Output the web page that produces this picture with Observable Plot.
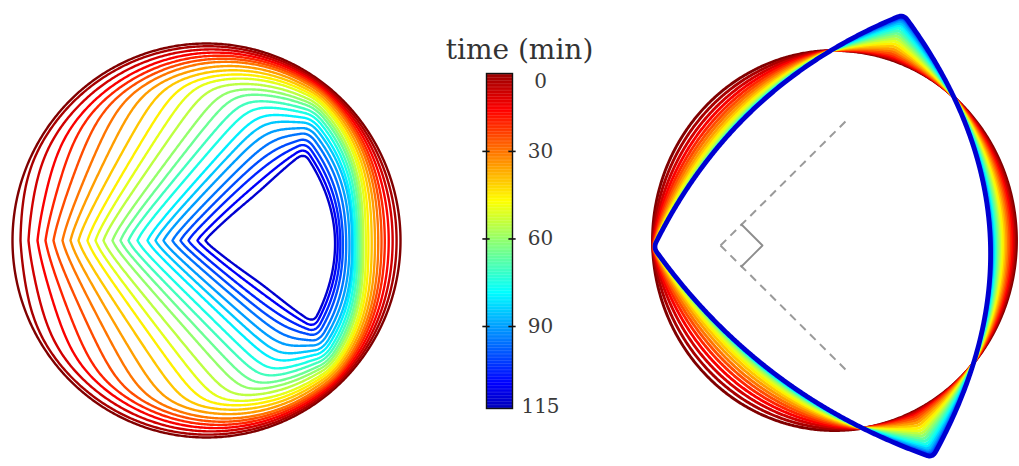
<!DOCTYPE html>
<html><head><meta charset="utf-8">
<script src="https://cdn.jsdelivr.net/npm/d3@7"></script>
<script src="https://cdn.jsdelivr.net/npm/@observablehq/plot@0.6"></script>
<style>
html,body{margin:0;padding:0;background:#fff;}
#wrap{position:relative;width:1019px;height:466px;overflow:hidden;background:#fff;}
#wrap > *{position:absolute;top:0;}
</style></head><body><div id="wrap"></div>
<script>
// ---------------- data ----------------
const times = [0,5,10,15,20,25,30,35,40,45,50,55,60,65,70,75,80,85,90,95,100,105,110,115];
// left panel: x of each contour's left tip on the horizontal mid line
const leftTipX = [12,20,28,37,45,53,62,70,78,87,95,103,112,120,128,137,147,155,163,172,180,188,197,205];
// fraction of the way from the first to the last outline, at the top/bottom and at the right
const leftTopFrac   = [0,0.02,0.04,0.06,0.08,0.1,0.12,0.15,0.18,0.21,0.24,0.28,0.32,0.36,0.41,0.46,0.52,0.58,0.65,0.72,0.8,0.87,0.94,1];
const leftRightFrac = [0,0.06,0.12,0.18,0.24,0.29,0.34,0.39,0.44,0.49,0.53,0.57,0.6,0.63,0.66,0.69,0.72,0.74,0.78,0.83,0.88,0.92,0.96,1];
// half opening angle (deg) of each contour's left corner
const leftCornerHalf = [90,86,81,76,72,68,65,62,59,57,55,53,51,49.5,48,47,46,45,44,43,42.3,41.6,40.9,40.2];
const leftCircle = [206, 240, 194, 197];              // cx, cy, rx, ry  (t = 0)
const leftTriangle = [[205,241],[303,151],[312,324]]; // final outline corners (t = 115)
const leftBulge = [6, 27, 6];
const leftCenter = [280, 240];
// right panel
const rightCircle = [834, 240, 182, 190];
const rightTriangle = [[903,14],[653,247],[932,457]];
const rightBulge = [33, 28, 72];
const rightCenter = [840, 240];
const rightInwardLeft  = [0,0.12,0.24,0.35,0.45,0.54,0.62,0.7,0.77,0.83,0.88,0.92,0.95,0.97,0.98,0.985,0.99,0.993,0.995,0.997,0.998,0.999,1,1];
const rightInwardRight = [0,0.06,0.12,0.18,0.24,0.3,0.36,0.42,0.48,0.54,0.6,0.65,0.7,0.75,0.8,0.84,0.88,0.91,0.94,0.96,0.98,0.99,1,1];
const rightOutward = [0,0.02,0.04,0.07,0.1,0.14,0.19,0.24,0.3,0.36,0.42,0.48,0.54,0.6,0.66,0.72,0.78,0.83,0.88,0.92,0.95,0.98,0.995,1];
const guideLines = [{x1:720,y1:245,x2:848,y2:118},{x1:720,y1:245,x2:848,y2:372}];
const rightAngle = [[741,224],[762,245],[741,266]];
// colour bar
const barTicks = [0,30,60,90,115];
const barRange = [3.3, 118.1];
const colorDomain = [0, 125];
const barTitle = "time (min)";

// ---------------- helpers ----------------
function jet(v){
  v = Math.max(0, Math.min(1, v));
  const c = x => Math.round(255*Math.max(0, Math.min(1, x)));
  const r = Math.min(4*v-1.5, -4*v+4.5), g = Math.min(4*v-0.5, -4*v+3.5), b = Math.min(4*v+0.5, -4*v+2.5);
  return `rgb(${c(r)},${c(g)},${c(b)})`;
}
function jetReversed(u){ return jet(1 - u); }
const colorOpts = {type:"linear", domain: colorDomain, interpolate: jetReversed};

function ellipsePts([cx,cy,rx,ry]){
  return d3.range(1440).map(k => {const a = k/1440*2*Math.PI; return [cx+rx*Math.cos(a), cy+ry*Math.sin(a)];});
}
function bulgedPts(verts, bulges){
  const gx = d3.mean(verts, v=>v[0]), gy = d3.mean(verts, v=>v[1]);
  const pts = [];
  verts.forEach((A,i) => {
    const B = verts[(i+1)%verts.length];
    const dx = B[0]-A[0], dy = B[1]-A[1], L = Math.hypot(dx,dy);
    let nx = -dy/L, ny = dx/L;
    const mx = (A[0]+B[0])/2-gx, my = (A[1]+B[1])/2-gy;
    if (nx*mx+ny*my < 0){nx=-nx; ny=-ny;}
    const n = Math.ceil(L);
    for (let k=0;k<n;k++){const u=k/n, h=bulges[i]*4*u*(1-u); pts.push([A[0]+u*dx+nx*h, A[1]+u*dy+ny*h]);}
  });
  return pts;
}
function smooth(pts, w){
  const n = pts.length;
  return pts.map((p,i) => {let sx=0, sy=0; for(let j=-w;j<=w;j++){const q=pts[(i+j+n)%n]; sx+=q[0]; sy+=q[1];} return [sx/(2*w+1), sy/(2*w+1)];});
}
const NA = 900;
const angles = d3.range(NA).map(k => -Math.PI + 2*Math.PI*k/NA);
function polar(pts, [cx,cy]){
  const a = pts.map(([x,y]) => ({a: Math.atan2(y-cy, x-cx), r: Math.hypot(x-cx, y-cy)})).sort((p,q) => p.a-q.a);
  const ext = [{a: a[a.length-1].a-2*Math.PI, r: a[a.length-1].r}, ...a, {a: a[0].a+2*Math.PI, r: a[0].r}];
  const bis = d3.bisector(d => d.a).left;
  return angles.map(t => {const i = Math.max(1, bis(ext, t)); const p = ext[i-1], q = ext[i]; const f = (t-p.a)/((q.a-p.a)||1); return p.r + f*(q.r-p.r);});
}
function softMin(a, b, k){
  const m = Math.min(a, b), M = Math.max(a, b);
  if (!isFinite(M)) return m;
  return m - k*Math.log(1 + Math.exp(-(M-m)/k));
}

// ---------------- left panel contours ----------------
const Lc = polar(ellipsePts(leftCircle), leftCenter);
const Lt = polar(smooth(bulgedPts(leftTriangle, leftBulge), 8), leftCenter);
const upSkew = 2.4, rad = Math.PI/180, softK = 7, tipShift = softK*Math.log(2);
const leftRows = [];
times.forEach((t,i) => {
  const [cx, cy] = leftCenter;
  const tip = leftTipX[i] - tipShift;
  const fTip = Math.max(0, (Lc[0] - (cx - tip)) / (Lc[0] - Lt[0]));
  const fT = leftTopFrac[i], fR = leftRightFrac[i];
  const pu = (leftCornerHalf[i] + upSkew)*rad, pd = (leftCornerHalf[i] - upSkew)*rad;
  const nUp = [-Math.sin(pu), -Math.cos(pu)], nDn = [-Math.sin(pd), Math.cos(pd)];
  const P = [tip, cy];
  angles.forEach((a,k) => {
    const c = Math.cos(a), s = Math.sin(a);
    const f = c >= 0 ? fT + (fR - fT)*c*c : fT + (fTip - fT)*c*c;
    const body = Lc[k] + f*(Lt[k]-Lc[k]);
    let wedge = Infinity;
    for (const n of [nUp, nDn]) {
      const nu = n[0]*c + n[1]*s;
      if (nu > 1e-9) wedge = Math.min(wedge, (n[0]*(P[0]-cx) + n[1]*(P[1]-cy))/nu);
    }
    const r = i === 0 ? body : softMin(body, wedge, softK);
    leftRows.push({t, x: cx + r*c, y: cy + r*s});
  });
});
// ---------------- right panel contours ----------------
const Rc = polar(ellipsePts(rightCircle), rightCenter);
const Rt = polar(smooth(bulgedPts(rightTriangle, rightBulge), 5), rightCenter);
const rightRows = [];
times.forEach((t,i) => {
  angles.forEach((a,k) => {
    const d = Rt[k]-Rc[k], c = Math.cos(a);
    const fin = rightInwardLeft[i]*(1-c)/2 + rightInwardRight[i]*(1+c)/2;
    const r = Rc[k] + (d < 0 ? fin : rightOutward[i])*d;
    rightRows.push({t, x: rightCenter[0] + r*c, y: rightCenter[1] + r*Math.sin(a)});
  });
});
const lastT = times[times.length-1];

const panels = Plot.plot({
  width: 1019, height: 466, margin: 0,
  x: {domain: [0, 1019], axis: null},
  y: {domain: [0, 466], reverse: true, axis: null},
  color: colorOpts,
  marks: [
    Plot.line(leftRows, {x:"x", y:"y", z:"t", stroke:"t", strokeWidth:2.4, curve:"linear-closed"}),
    Plot.line(rightRows, {x:"x", y:"y", z:"t", stroke:"t", strokeWidth:2.9, curve:"linear-closed"}),
    Plot.line(rightRows.filter(d => d.t === lastT), {x:"x", y:"y", stroke:"t", strokeWidth:4.8, curve:"linear-closed"}),
    Plot.link(guideLines, {x1:"x1", y1:"y1", x2:"x2", y2:"y2", stroke:"#9a9a9a", strokeWidth:2, strokeDasharray:"8,6"}),
    Plot.line(rightAngle, {x: d => d[0], y: d => d[1], stroke:"#8c8c8c", strokeWidth:1.8})
  ]
});

const barSteps = d3.range(barRange[0], barRange[1], 0.5);
const bar = Plot.plot({
  width: 170, height: 466,
  marginLeft: 56, marginRight: 88, marginTop: 73, marginBottom: 58,
  x: {domain: [0, 1], axis: null},
  y: {domain: barRange, reverse: true, axis: null},
  color: colorOpts,
  style: {fontFamily: "DejaVu Serif", overflow: "visible", background: "transparent"},
  marks: [
    Plot.rect(barSteps, {x1: () => 0, x2: () => 1, y1: d => d, y2: d => Math.min(barRange[1], d + 0.6), fill: d => d}),
    Plot.frame({stroke: "#111", strokeWidth: 1.4}),
    Plot.ruleY(barTicks.slice(1, -1), {x1: () => -0.14, x2: () => 0.14, stroke: "#111", strokeWidth: 1.6}),
    Plot.ruleY(barTicks.slice(1, -1), {x1: () => 0.86, x2: () => 1.14, stroke: "#111", strokeWidth: 1.6}),
    Plot.text(barTicks.slice(1, -1), {x: () => 1, y: d => d, dx: 28, text: d => String(d), fontSize: 20, fill: "#3a3a3a", fontFamily: "DejaVu Serif"}),
    Plot.text(barTicks.slice(0, 1), {x: () => 1, y: () => barRange[0], dx: 28, lineAnchor: "top", text: d => String(d), fontSize: 20, fill: "#3a3a3a", fontFamily: "DejaVu Serif"}),
    Plot.text(barTicks.slice(-1), {x: () => 1, y: () => barRange[1], dx: 28, dy: 4, lineAnchor: "bottom", text: d => String(d), fontSize: 20, fill: "#3a3a3a", fontFamily: "DejaVu Serif"}),
    Plot.text([barTitle], {frameAnchor: "top", dx: 20, dy: -15, lineAnchor: "bottom", text: d => d, fontSize: 28, fill: "#333", fontFamily: "DejaVu Serif"})
  ]
});
bar.style.left = "430px";
panels.style.left = "0px";
const wrap = document.getElementById("wrap");
wrap.appendChild(panels);
wrap.appendChild(bar);
</script>
</body></html>
